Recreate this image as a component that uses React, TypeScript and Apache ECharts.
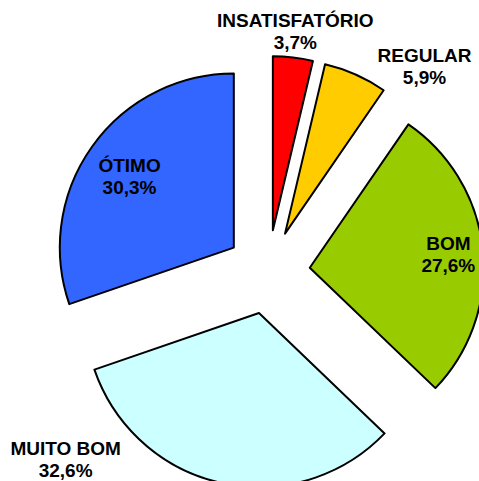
import React, { useEffect, useRef } from "react";
import * as echarts from "echarts";

const categories = ["INSATISFATÓRIO", "REGULAR", "BOM", "MUITO BOM", "ÓTIMO"];
const values = [3.7, 5.9, 27.6, 32.6, 30.3];
const colors = ["#FF0000", "#FFCC00", "#99CC00", "#CCFFFF", "#3366FF"];
// label nudges from the default inside position
const labelNudges: [number, number][] = [
  [12, -109],
  [103, -85],
  [49, -4],
  [-174, 59],
  [-31, -19],
];

export default function App() {
  const ref = useRef<HTMLDivElement>(null);
  useEffect(() => {
    if (!ref.current) return;
    const chart = echarts.init(ref.current, undefined, { renderer: "svg" });
    chart.setOption({
      animation: false,
      backgroundColor: "#ffffff",
      series: [
        {
          type: "pie",
          center: [268, 272],
          radius: 174,
          startAngle: 90,
          clockwise: true,
          selectedMode: "multiple",
          selectedOffset: 42,
          emphasis: { disabled: true },
          itemStyle: { borderColor: "#000000", borderWidth: 2 },
          label: {
            show: true,
            position: "inside",
            color: "#000000",
            fontFamily: "Liberation Sans, Arial, sans-serif",
            fontWeight: "bold",
            fontSize: 19,
            lineHeight: 22,
            align: "center",
            formatter: (p: any) =>
              p.name + "\n" + String(p.value).replace(".", ",") + "%",
          },
          labelLine: { show: false },
          labelLayout: (p: any) => ({
            dx: labelNudges[p.dataIndex][0],
            dy: labelNudges[p.dataIndex][1],
          }),
          data: categories.map((c, i) => ({
            name: c,
            value: values[i],
            selected: true,
            itemStyle: { color: colors[i] },
            select: { itemStyle: { color: colors[i], borderColor: "#000000", borderWidth: 2 } },
          })),
        },
      ],
    });
    return () => chart.dispose();
  }, []);
  return (
    <div
      ref={ref}
      style={{ position: "fixed", left: 0, top: 0, width: 479, height: 481 }}
    />
  );
}
